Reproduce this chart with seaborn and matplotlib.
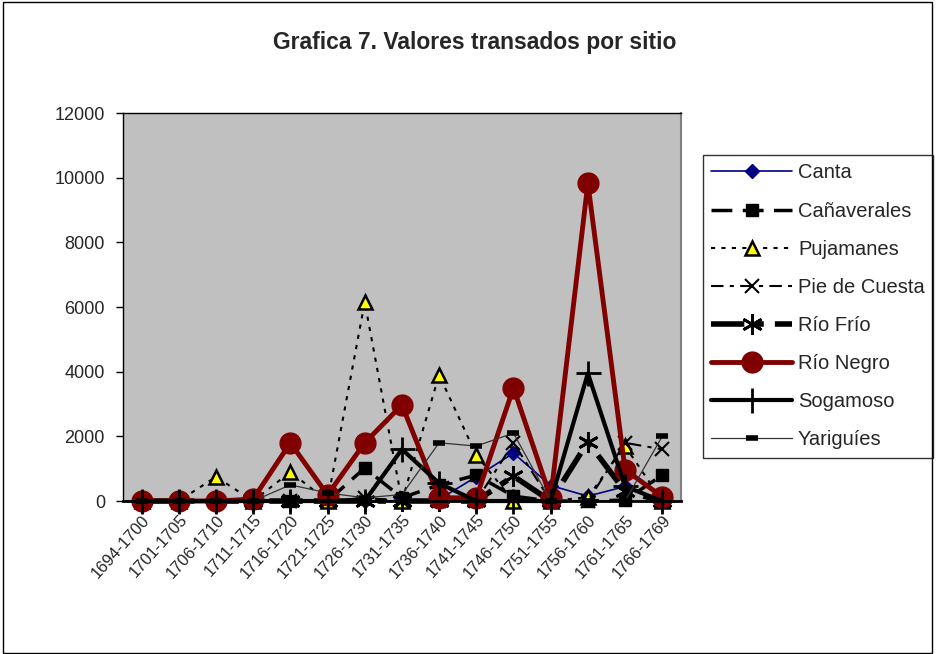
import numpy as np
import pandas as pd
import seaborn as sns
import matplotlib.pyplot as plt
from matplotlib.patches import Rectangle

# periods on the x axis
periods = ['1694-1700', '1701-1705', '1706-1710', '1711-1715', '1716-1720',
           '1721-1725', '1726-1730', '1731-1735', '1736-1740', '1741-1745',
           '1746-1750', '1751-1755', '1756-1760', '1761-1765', '1766-1769']

# values, one list per site
canta = [0, 0, 0, 0, 0, 0, 0, 0, 50, 750, 1480, 480, 150, 450, 0]
canaverales = [0, 0, 0, 0, 0, 0, 1020, 100, 500, 800, 150, 0, 0, 30, 800]
pujamanes = [0, 0, 750, 0, 900, 0, 6150, 0, 3900, 1420, 0, 0, 120, 1700, 0]
pie_cuesta = [0, 0, 0, 0, 0, 0, 100, 0, 0, 0, 1800, 0, 0, 1800, 1600]
rio_frio = [0, 0, 0, 0, 0, 0, 0, 0, 0, 0, 770, 0, 1830, 300, 0]
rio_negro = [0, 0, 0, 60, 1800, 190, 1800, 2970, 100, 100, 3500, 100, 9830, 970, 130]
sogamoso = [0, 0, 0, 0, 0, 0, 0, 1600, 550, 0, 0, 0, 3950, 450, 0]
yariguies = [0, 0, 0, 0, 500, 250, 100, 200, 1800, 1700, 2100, 0, 0, 0, 2000]

sites = ['Canta', 'Cañaverales', 'Pujamanes', 'Pie de Cuesta', 'Río Frío',
         'Río Negro', 'Sogamoso', 'Yariguíes']
series = [canta, canaverales, pujamanes, pie_cuesta, rio_frio,
          rio_negro, sogamoso, yariguies]

# line / marker look per site (Excel-like)
styles = {
    'Canta': dict(color='#000080', lw=1.2, ls='-', marker='D', ms=7,
                  mfc='#000080', mec='#000080', mew=1),
    'Cañaverales': dict(color='black', lw=2.5, ls=(0, (6, 3)), marker='s', ms=8,
                        mfc='black', mec='black', mew=1),
    'Pujamanes': dict(color='black', lw=1.5, ls=(0, (2, 3)), marker='^', ms=10,
                      mfc='#ffff00', mec='black', mew=1.8),
    'Pie de Cuesta': dict(color='black', lw=1.5, ls=(0, (6, 3, 2, 3)), marker='x', ms=10,
                          mfc='black', mec='black', mew=1.5),
    'Río Frío': dict(color='black', lw=4, ls=(0, (6, 2, 1.5, 2)), marker=(6, 2, 0), ms=15,
                     mfc='black', mec='black', mew=2),
    'Río Negro': dict(color='#800000', lw=3.5, ls='-', marker='o', ms=15,
                      mfc='#800000', mec='#800000', mew=1),
    'Sogamoso': dict(color='black', lw=3, ls='-', marker='+', ms=18,
                     mfc='black', mec='black', mew=2),
    'Yariguíes': dict(color='#333333', lw=0.9, ls='-', marker='_', ms=9,
                      mfc='black', mec='black', mew=4),
}

sns.set_style('white')
plt.rcParams['font.family'] = ['Liberation Sans', 'DejaVu Sans']

fig = plt.figure(figsize=(9.36, 6.54), dpi=100)
ax = fig.add_axes([0.1314, 0.2339, 0.596, 0.5933])
ax.set_facecolor('#c0c0c0')

xpos = np.arange(len(periods))
handles = []
for name, vals in zip(sites, series):
    st = styles[name]
    df = pd.DataFrame({'x': xpos, 'y': vals})
    n_before = len(ax.get_lines())
    sns.lineplot(data=df, x='x', y='y', ax=ax, color=st['color'], linewidth=st['lw'],
                 linestyle=st['ls'], marker=st['marker'], markersize=st['ms'],
                 markerfacecolor=st['mfc'], markeredgecolor=st['mec'],
                 markeredgewidth=st['mew'], legend=False)
    line = ax.get_lines()[n_before]
    line.set_clip_on(False)
    handles.append(line)

ax.set_xlim(-0.5, len(periods) - 0.5)
ax.set_ylim(0, 12000)
ax.set_yticks(np.arange(0, 12001, 2000))
ax.set_xticks(xpos)
ax.set_xticklabels(periods, rotation=48, ha='right', rotation_mode='anchor')
ax.set_xticks(np.arange(-0.5, len(periods)), minor=True)
ax.tick_params(axis='x', which='major', length=0, pad=8, labelsize=11.8)
ax.tick_params(axis='x', which='minor', length=6, width=1, color='black', direction='out')
ax.tick_params(axis='y', length=5, width=1, color='black', direction='out', pad=8, labelsize=13)
ax.tick_params(axis='both', bottom=True, left=True)
ax.set_xlabel('')
ax.set_ylabel('')

for side in ['left', 'top']:
    ax.spines[side].set_color('black')
    ax.spines[side].set_linewidth(1)
ax.spines['bottom'].set_color('black')
ax.spines['bottom'].set_linewidth(2)
ax.spines['right'].set_color('#808080')
ax.spines['right'].set_linewidth(1.5)

fig.text(0.507, 0.935, 'Grafica 7. Valores transados por sitio', ha='center', va='center',
         fontsize=16.5, fontweight='bold')

leg = ax.legend(handles, sites, loc='upper left', bbox_to_anchor=(0.751, 0.763),
                bbox_transform=fig.transFigure, frameon=True, fancybox=False,
                edgecolor='black', fontsize=14.5, handlelength=4.0, labelspacing=0.95,
                borderpad=0.42, handletextpad=0.3, borderaxespad=0)
leg.get_frame().set_linewidth(1)
leg.get_frame().set_facecolor('white')

# outer border of the chart
fig.patches.append(Rectangle((0.003, 0.002), 0.993, 0.995, transform=fig.transFigure,
                             fill=False, edgecolor='black', linewidth=1))

fig.savefig('out.png', dpi=100)
